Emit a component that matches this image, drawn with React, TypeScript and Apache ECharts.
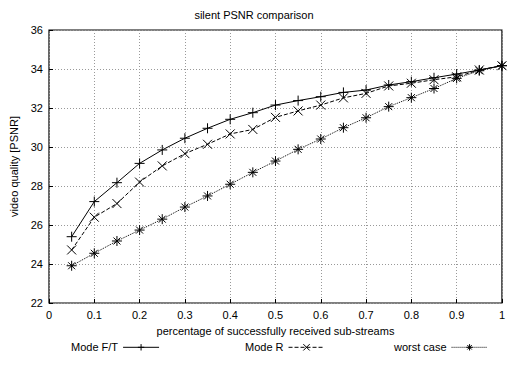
import React, { useEffect, useRef } from "react";
import * as echarts from "echarts";

const xValues = [0.05, 0.1, 0.15, 0.2, 0.25, 0.3, 0.35, 0.4, 0.45, 0.5, 0.55, 0.6, 0.65, 0.7, 0.75, 0.8, 0.85, 0.9, 0.95, 1.0];
const modeFT = [25.4, 27.2, 28.17, 29.16, 29.85, 30.45, 30.96, 31.42, 31.76, 32.15, 32.38, 32.58, 32.8, 32.92, 33.18, 33.35, 33.55, 33.74, 33.95, 34.17];
const modeR = [24.72, 26.4, 27.1, 28.2, 29.03, 29.66, 30.14, 30.67, 30.9, 31.52, 31.85, 32.15, 32.52, 32.75, 33.13, 33.27, 33.45, 33.6, 33.95, 34.17];
const worstCase = [23.91, 24.55, 25.18, 25.74, 26.3, 26.92, 27.49, 28.09, 28.7, 29.28, 29.88, 30.41, 30.99, 31.5, 32.07, 32.53, 33.0, 33.52, 33.91, 34.17];
const seriesNames = ["Mode F/T", "Mode R", "worst case"];

const PLUS = "path://M0,5L10,5M5,0L5,10";
const CROSS = "path://M0,0L10,10M0,10L10,0";
const STAR = "path://M0,5L10,5M5,0L5,10M1.5,1.5L8.5,8.5M1.5,8.5L8.5,1.5";

const FONT = "Liberation Sans";

export default function App() {
  const ref = useRef<HTMLDivElement>(null);
  useEffect(() => {
    if (!ref.current) return;
    const chart = echarts.init(ref.current, null, { renderer: "svg" });
    const mk = (name: string, data: number[], symbol: string, type: string, size: number) => ({
      name,
      type: "line",
      data: xValues.map((x, i) => [x, data[i]]),
      symbol,
      symbolSize: size,
      showAllSymbol: true,
      itemStyle: { color: "none", borderColor: "#000", borderWidth: 1 },
      lineStyle: { color: "#000", width: 1, type },
      emphasis: { disabled: true },
    });
    const legendItem = (name: string, left: number, type: string) => ({
      bottom: 7,
      left,
      data: [name],
      itemWidth: 36,
      itemHeight: 8,
      align: "right",
      itemGap: 4,
      textStyle: { fontFamily: FONT, fontSize: 11, color: "#000", padding: [0, 0, 0, 0] },
      lineStyle: { width: 1, type, color: "#000" },
      itemStyle: { color: "none", borderColor: "#000", borderWidth: 1 },
    });
    chart.setOption({
      animation: false,
      backgroundColor: "#fff",
      title: {
        text: "silent PSNR comparison",
        left: "center",
        top: 4,
        textStyle: { fontFamily: FONT, fontSize: 11, fontWeight: "normal", color: "#000" },
      },
      grid: { left: 47, right: 5, top: 30, bottom: 62, show: true, borderColor: "#000", borderWidth: 1.2, backgroundColor: "transparent" },
      xAxis: {
        type: "value",
        min: 0,
        max: 1,
        interval: 0.1,
        name: "percentage of successfully received sub-streams",
        nameLocation: "middle",
        nameGap: 22,
        nameTextStyle: { fontFamily: FONT, fontSize: 11, color: "#000" },
        axisLine: { show: false },
        axisTick: { inside: true, length: 4, lineStyle: { color: "#000" } },
        axisLabel: { fontFamily: FONT, fontSize: 11, color: "#000", margin: 6, formatter: (v: number) => String(Math.round(v * 10) / 10) },
        splitLine: { show: true, lineStyle: { color: "#999", type: [1, 2], width: 1 } },
      },
      yAxis: {
        type: "value",
        min: 22,
        max: 36,
        interval: 2,
        name: "video quality [PSNR]",
        nameLocation: "middle",
        nameGap: 30,
        nameTextStyle: { fontFamily: FONT, fontSize: 11, color: "#000" },
        axisLine: { show: false },
        axisTick: { inside: true, length: 4, lineStyle: { color: "#000" } },
        axisLabel: { fontFamily: FONT, fontSize: 11, color: "#000", margin: 6 },
        splitLine: { show: true, lineStyle: { color: "#999", type: [1, 2], width: 1 } },
      },
      legend: [
        legendItem(seriesNames[0], 66, "solid"),
        legendItem(seriesNames[1], 240, "dashed"),
        legendItem(seriesNames[2], 389, "dotted"),
      ],
      series: [
        mk(seriesNames[0], modeFT, PLUS, "solid", 10),
        mk(seriesNames[1], modeR, CROSS, "dashed", 9),
        mk(seriesNames[2], worstCase, STAR, "dotted", 10),
      ],
    });
    return () => chart.dispose();
  }, []);
  return <div ref={ref} style={{ width: 508, height: 365, position: "absolute", left: 0, top: 0 }} />;
}
